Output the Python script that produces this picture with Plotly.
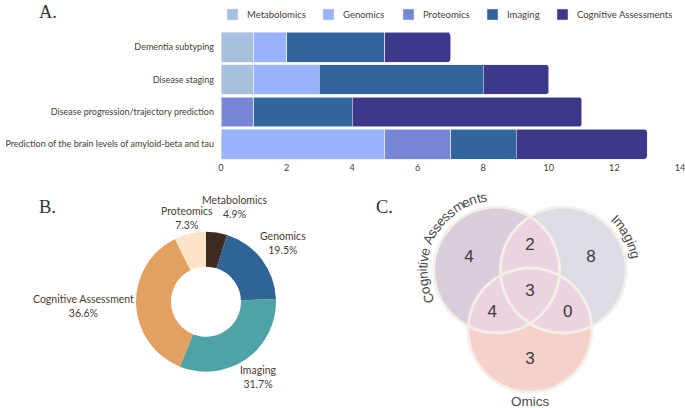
import numpy as np
import plotly.graph_objects as go

W, H = 685, 408

# ---------------- Panel A data ----------------
tasks = ["Dementia subtyping", "Disease staging",
         "Disease progression/trajectory prediction",
         "Prediction of the brain levels of amyloid-beta and tau"]
modalities = ["Metabolomics", "Genomics", "Proteomics", "Imaging", "Cognitive Assessments"]
metabolomics = [1, 1, 0, 0]
genomics = [1, 2, 0, 5]
proteomics = [0, 0, 1, 2]
imaging = [3, 5, 3, 2]
cognitive = [2, 2, 7, 4]
x_ticks = [0, 2, 4, 6, 8, 10, 12, 14]

# ---------------- Panel B data ----------------
pie_labels = ["Metabolomics", "Genomics", "Imaging", "Cognitive Assessment", "Proteomics"]
pie_values = [2, 8, 13, 15, 3]

# ---------------- Panel C data ----------------
venn_sets = ["Cognitive Assessments", "Imaging", "Omics"]
venn_regions = [(1, 0, 0), (1, 1, 0), (0, 1, 0), (1, 1, 1), (1, 0, 1), (0, 1, 1), (0, 0, 1)]
venn_counts = [4, 2, 8, 3, 4, 0, 3]

# ---------------- styles ----------------
bar_colors = ["#a7c0dd", "#99b4fc", "#7787d6", "#32659a", "#3e388b"]
pie_colors = ["#3e2a1e", "#2f6497", "#4fa2a6", "#e2a160", "#fde4c6"]
txt_brown = "#4b3b33"
sans = "Lato"


def px(x):
    return x / W


def py(y):
    return 1 - y / H


fig = go.Figure()

# ---------------- Panel A: stacked bars ----------------
series = [metabolomics, genomics, proteomics, imaging, cognitive]
for name, vals, col in zip(modalities, series, bar_colors):
    fig.add_trace(go.Bar(
        y=tasks, x=vals, orientation="h", name=name,
        marker=dict(color=col, line=dict(color="#e9e9f0", width=0.6)),
        showlegend=False, xaxis="x", yaxis="y"))

# manual legend
legend_left_px = [227, 323, 403, 487, 557]
shapes = []
annotations = []
for name, col, lx in zip(modalities, bar_colors, legend_left_px):
    shapes.append(dict(type="rect", xref="paper", yref="paper",
                       x0=px(lx), x1=px(lx + 11), y0=py(20), y1=py(9),
                       fillcolor=col, line=dict(color="#e6e6ee", width=0.5)))
    annotations.append(dict(x=px(lx + 18), y=py(14.5), xref="paper", yref="paper",
                            text=name, showarrow=False, xanchor="left", yanchor="middle",
                            font=dict(family=sans, size=9.5, color=txt_brown)))

# ---------------- Panel B: donut ----------------
fig.add_trace(go.Pie(
    labels=pie_labels, values=pie_values, hole=0.5, sort=False,
    direction="clockwise", rotation=0, textinfo="none",
    marker=dict(colors=pie_colors, line=dict(width=0)),
    domain=dict(x=[px(136), px(276)], y=[py(371.7), py(231.7)]),
    showlegend=False))

pie_label_xy = [(235, 206.5), (283, 242.5), (258, 377), (83, 306), (187, 218)]
tot = sum(pie_values)
for lab, v, (lx, ly) in zip(pie_labels, pie_values, pie_label_xy):
    annotations.append(dict(x=px(lx), y=py(ly), xref="paper", yref="paper",
                            text=f"{lab}<br>{v / tot * 100:.1f}%", showarrow=False,
                            xanchor="center", yanchor="middle", align="center",
                            font=dict(family=sans, size=10.5, color=txt_brown)))

# ---------------- Panel C: Venn ----------------
venn_centers = [(-0.529, 0.0), (0.529, 0.0), (0.0, -0.952)]
venn_radii = [1.0, 1.0, 0.985]
venn_fill = ["#dacddb", "#dddce5", "#f6d1c9"]
lens_fill = "#ebd3e0"
stroke = "#f4efe8"

t = np.linspace(0, 2 * np.pi, 241)
for (cx, cy), r, col in zip(venn_centers, venn_radii, venn_fill):
    fig.add_trace(go.Scatter(x=cx + r * np.cos(t), y=cy + r * np.sin(t), mode="lines",
                             fill="toself", fillcolor=col, line=dict(width=0),
                             hoverinfo="skip", showlegend=False, xaxis="x2", yaxis="y2"))


def lens(i, j, n=80):
    (ax, ay), ra = venn_centers[i], venn_radii[i]
    (bx, by), rb = venn_centers[j], venn_radii[j]
    d = np.hypot(bx - ax, by - ay)
    phi_ab = np.arctan2(by - ay, bx - ax)
    phi_ba = np.arctan2(ay - by, ax - bx)
    al = np.arccos((d * d + ra * ra - rb * rb) / (2 * d * ra))
    be = np.arccos((d * d + rb * rb - ra * ra) / (2 * d * rb))
    ta = np.linspace(phi_ab - al, phi_ab + al, n)
    tb = np.linspace(phi_ba - be, phi_ba + be, n)
    xs = np.concatenate([ax + ra * np.cos(ta), bx + rb * np.cos(tb)])
    ys = np.concatenate([ay + ra * np.sin(ta), by + rb * np.sin(tb)])
    return xs, ys


for i, j in [(0, 1), (0, 2), (1, 2)]:
    lx_, ly_ = lens(i, j)
    fig.add_trace(go.Scatter(x=lx_, y=ly_, mode="lines", fill="toself", fillcolor=lens_fill,
                             line=dict(width=0), hoverinfo="skip", showlegend=False,
                             xaxis="x2", yaxis="y2"))

for (cx, cy), r in zip(venn_centers, venn_radii):
    fig.add_trace(go.Scatter(x=cx + r * np.cos(t), y=cy + r * np.sin(t), mode="lines",
                             line=dict(width=2.8, color=stroke), hoverinfo="skip",
                             showlegend=False, xaxis="x2", yaxis="y2"))

# region label positions: pole of inaccessibility on a grid
gx, gy = np.meshgrid(np.linspace(-1.9, 1.9, 381), np.linspace(-2.1, 1.2, 331))
inside = []
bd = []
for (cx, cy), r in zip(venn_centers, venn_radii):
    dd = np.hypot(gx - cx, gy - cy)
    inside.append(dd < r)
    bd.append(np.abs(dd - r))
mind = np.min(np.stack(bd), axis=0)
num_x, num_y = [], []
for pat in venn_regions:
    mask = np.ones_like(gx, dtype=bool)
    for k, p in enumerate(pat):
        mask &= inside[k] if p else ~inside[k]
    score = np.where(mask, mind, -1)
    idx = np.unravel_index(np.argmax(score), score.shape)
    num_x.append(gx[idx])
    num_y.append(gy[idx])

fig.add_trace(go.Scatter(x=num_x, y=num_y, mode="text", text=[str(c) for c in venn_counts],
                         textfont=dict(family="Liberation Sans", size=17, color="#3a3a3a"),
                         hoverinfo="skip", showlegend=False, xaxis="x2", yaxis="y2"))

# curved set labels
char_w = {"C": .722, "o": .556, "g": .556, "n": .556, "i": .222, "t": .278, "v": .5,
          "e": .556, " ": .278, "A": .667, "s": .5, "m": .833, "I": .278, "a": .556}
vfont = 13.5
unit_px = 63.0


def arc_text(text, center, radius, mid_deg):
    cx, cy = center
    widths = [char_w.get(ch, .556) * vfont / unit_px for ch in text]
    total = sum(widths)
    start = np.radians(mid_deg) + (total / 2) / radius
    cum = 0.0
    for ch, w in zip(text, widths):
        s = cum + w / 2
        th = start - s / radius
        cum += w
        if ch == " ":
            continue
        annotations.append(dict(x=cx + radius * np.cos(th), y=cy + radius * np.sin(th),
                                xref="x2", yref="y2", text=ch, showarrow=False,
                                xanchor="center", yanchor="middle",
                                textangle=90 - np.degrees(th),
                                font=dict(family="Liberation Sans", size=vfont, color="#4a4a4a")))


arc_text(venn_sets[0], venn_centers[0], 1.175, 151.7)
arc_text(venn_sets[1], venn_centers[1], 1.16, 28.0)
annotations.append(dict(x=venn_centers[2][0], y=venn_centers[2][1] - 1.14, xref="x2", yref="y2",
                        text=venn_sets[2], showarrow=False, xanchor="center", yanchor="middle",
                        font=dict(family="Liberation Sans", size=vfont, color="#4a4a4a")))

# panel letters
annotations.append(dict(x=px(48), y=py(0), xref="paper", yref="paper", text="A.",
                        showarrow=False, xanchor="center", yanchor="top",
                        font=dict(family="Liberation Serif", size=18.5, color="#333333")))
for letter, (lx, ly) in zip(["B.", "C."], [(47, 206.5), (384, 206.5)]):
    annotations.append(dict(x=px(lx), y=py(ly), xref="paper", yref="paper", text=letter,
                            showarrow=False, xanchor="center", yanchor="middle",
                            font=dict(family="Liberation Serif", size=18.5, color="#333333")))

fig.update_layout(
    width=W, height=H, autosize=False,
    margin=dict(l=0, r=0, t=0, b=0, pad=0, autoexpand=False),
    paper_bgcolor="white", plot_bgcolor="white",
    barmode="stack", bargap=0.08, barcornerradius=3,
    xaxis=dict(domain=[px(221), px(680)], range=[0, 14], tickvals=x_ticks,
               showgrid=False, zeroline=False, showline=False, ticks="", automargin=False,
               ticklabeloverflow="allow",
               tickfont=dict(family=sans, size=9.2, color=txt_brown), anchor="y"),
    yaxis=dict(domain=[py(160.5), py(30.9)], autorange="reversed",
               categoryorder="array", categoryarray=tasks, automargin=False,
               showgrid=False, zeroline=False, showline=False, ticks="",
               ticklabelstandoff=6, ticklabeloverflow="allow",
               tickfont=dict(family=sans, size=9.0, color=txt_brown), anchor="x"),
    xaxis2=dict(domain=[px(410), px(650)], range=[-1.905, 1.905], visible=False,
                showgrid=False, zeroline=False, anchor="y2", automargin=False),
    yaxis2=dict(domain=[py(408), py(190)], range=[-2.19, 1.27], visible=False,
                showgrid=False, zeroline=False, anchor="x2", automargin=False),
    shapes=shapes, annotations=annotations,
)

fig.write_html("out.html", config={"displayModeBar": False},
               post_script="document.body.style.margin='0px';document.body.style.overflow='hidden';")
